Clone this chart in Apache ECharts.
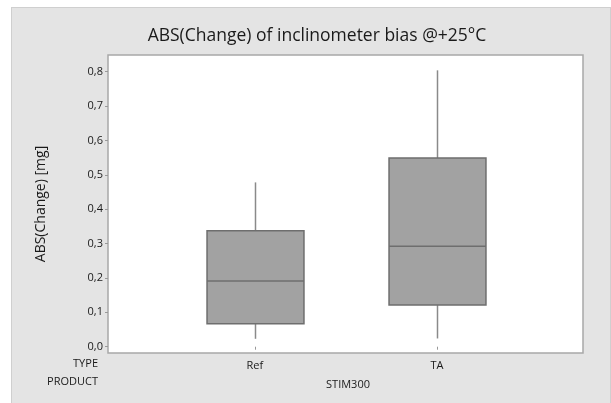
<!DOCTYPE html>
<html>
<head>
<meta charset="utf-8">
<script src="https://cdn.jsdelivr.net/npm/echarts@6/dist/echarts.min.js"></script>
<style>
  html, body { margin: 0; padding: 0; background: #fff; }
  #panel {
    position: absolute; left: 11px; top: 7px; width: 598px; height: 400px;
    background: #e4e4e4; border: 1px solid #cfcfcf;
  }
  #chart { position: absolute; left: 0; top: 0; width: 611px; height: 403px; }
</style>
</head>
<body>
<div id="panel"></div>
<div id="chart"></div>
<script>
// categories and box stats
const types = ["Ref", "TA"];
const typePos = [1, 2];
const product = "STIM300";
// [min, Q1, median, Q3, max]
const refStats = [0.023, 0.067, 0.191, 0.337, 0.478];
const taStats = [0.024, 0.121, 0.292, 0.549, 0.804];
const yTicks = [0, 0.1, 0.2, 0.3, 0.4, 0.5, 0.6, 0.7, 0.8];
const rowLabels = ["TYPE", "PRODUCT"];

const FONT = "Open Sans";
const BOX_W = 0.532; // in x units

const chart = echarts.init(document.getElementById("chart"));

function renderBox(params, api) {
  const x = api.value(0);
  const lo = api.coord([x, api.value(1)]);
  const q1 = api.coord([x, api.value(2)]);
  const md = api.coord([x, api.value(3)]);
  const q3 = api.coord([x, api.value(4)]);
  const hi = api.coord([x, api.value(5)]);
  const w = api.size([BOX_W, 0])[0];
  const cx = Math.round(lo[0]) + 0.5;
  const left = cx - w / 2;
  const whisker = { stroke: "#8a8a8a", lineWidth: 1.5 };
  const edge = { stroke: "#6e6e6e", lineWidth: 1.5 };
  return {
    type: "group",
    children: [
      { type: "line", shape: { x1: cx, y1: lo[1], x2: cx, y2: q1[1] }, style: whisker },
      { type: "line", shape: { x1: cx, y1: q3[1], x2: cx, y2: hi[1] }, style: whisker },
      {
        type: "rect",
        shape: { x: left, y: q3[1], width: w, height: q1[1] - q3[1] },
        style: Object.assign({ fill: "#a2a2a2" }, edge)
      },
      { type: "line", shape: { x1: left, y1: md[1], x2: left + w, y2: md[1] }, style: edge }
    ]
  };
}

const option = {
  animation: false,
  textStyle: { fontFamily: FONT },
  title: {
    text: "ABS(Change) of inclinometer bias @+25°C",
    left: 312, top: 22, textAlign: "center",
    textStyle: { fontFamily: FONT, fontSize: 17.5, fontWeight: 500, color: "#1a1a1a" }
  },
  grid: {
    left: 108, top: 55, right: 28, bottom: 50,
    show: true, backgroundColor: "#fff", borderColor: "#a8a8a8", borderWidth: 1.5
  },
  xAxis: {
    type: "value", min: 0.194, max: 2.801,
    splitLine: { show: false },
    axisLine: { show: false },
    axisTick: { show: true, length: 3, customValues: typePos, lineStyle: { color: "#999" } },
    axisLabel: {
      customValues: typePos, margin: 7,
      formatter: v => types[typePos.indexOf(v)] || "",
      fontFamily: FONT, fontSize: 11, color: "#1a1a1a"
    },
    name: product, nameLocation: "middle", nameGap: 26,
    nameTextStyle: { fontFamily: FONT, fontSize: 11, color: "#1a1a1a", padding: [0, 0, 0, 5] }
  },
  yAxis: {
    type: "value", min: -0.0183, max: 0.8486,
    splitLine: { show: false },
    axisLine: { show: false },
    axisTick: { show: true, length: 3, customValues: yTicks, lineStyle: { color: "#999" } },
    axisLabel: {
      customValues: yTicks, margin: 5,
      formatter: v => v.toFixed(1).replace(".", ","),
      fontFamily: FONT, fontSize: 11, color: "#1a1a1a"
    },
    name: "ABS(Change) [mg]", nameLocation: "middle", nameRotate: 90, nameGap: 60,
    nameTextStyle: { fontFamily: FONT, fontSize: 14, color: "#1a1a1a" }
  },
  graphic: rowLabels.map((t, i) => ({
    type: "text", right: 611 - 98, top: 358 + i * 18,
    style: { text: t, fontFamily: FONT, fontSize: 11, fill: "#1a1a1a", textAlign: "right" }
  })),
  series: [{
    type: "custom",
    renderItem: renderBox,
    encode: { x: 0, y: [1, 2, 3, 4, 5] },
    data: [
      [typePos[0]].concat(refStats),
      [typePos[1]].concat(taStats)
    ]
  }]
};

chart.setOption(option);
</script>
</body>
</html>
